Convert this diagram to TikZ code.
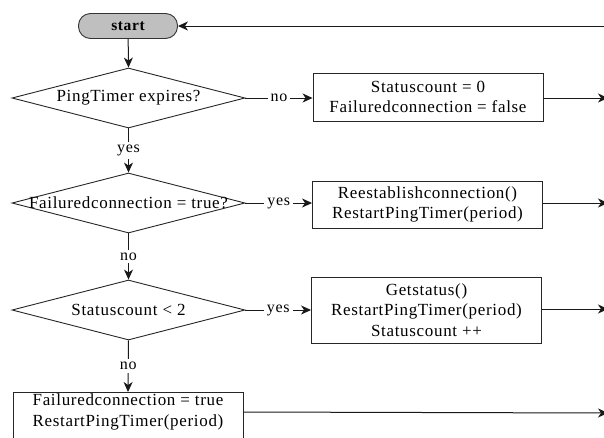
\documentclass[tikz,border=0pt]{standalone}
\usepackage{fontspec}
\setmainfont{Liberation Serif}[LetterSpace=4.0]
\usetikzlibrary{arrows.meta,shapes.geometric}

\begin{document}
\begin{tikzpicture}[x=1pt,y=-1pt,
  font=\fontsize{17}{20.5}\selectfont,
  flow/.style={draw=black!90, line width=1pt,
    -{Stealth[length=10pt,width=9pt,inset=3pt]}},
  decision/.style={diamond, draw=black!85, line width=0.9pt,
    minimum width=233pt, minimum height=60pt, inner sep=0pt},
  action/.style={rectangle, draw=black!85, line width=0.9pt,
    minimum width=230pt, align=center, inner sep=0pt},
  terminal/.style={rectangle, rounded corners=12pt, draw=black!80,
    line width=0.9pt, fill=black!25, minimum width=99pt, minimum height=25pt,
    inner sep=0pt, font=\bfseries\fontsize{15.5}{18}\selectfont},
  lbl/.style={fill=white, inner sep=3pt, font=\fontsize{16}{18}\selectfont}]

  \useasboundingbox (0,0) rectangle (604,437);
  \clip (0,0) rectangle (604,437);

  % start
  \node[terminal] (start) at (128,26) {start};

  % decisions (shape and its text kept apart so the text may overhang)
  \node[decision] (d1) at (128.5,98) {};
  \node (t1) at (128.5,98) {PingTimer expires?};
  \node[decision] (d2) at (128.5,203) {};
  \node (t2) at (128.5,203) {Failuredconnection = true?};
  \node[decision] (d3) at (128.5,310) {};
  \node (t3) at (128.5,310) {Statuscount < 2};

  % actions
  \node[action, minimum height=48pt] (b1) at (428,97)
    {Statuscount = 0\\Failuredconnection = false};
  \node[action, minimum height=47pt] (b2) at (427.5,204.5)
    {Reestablishconnection()\\RestartPingTimer(period)};
  \node[action, minimum height=66pt] (b3) at (426.5,310)
    {Getstatus()\\RestartPingTimer(period)\\Statuscount ++};
  \node[action, minimum height=60pt, anchor=north] (b4) at (128,392) {};
  \node[align=center] (t4) at (128,412)
    {Failuredconnection = true\\RestartPingTimer(period)};

  % off-page ends of the loop
  \coordinate (r0) at (614,26);
  \coordinate (e1) at (608,98);
  \coordinate (e2) at (608,203);
  \coordinate (e3) at (608,309);
  \coordinate (e4) at (608,413);

  % main column
  \draw[flow] (start) -- (d1.north);
  \draw[flow] (d1.south) -- node[lbl] {yes} (d2.north);
  \draw[flow] (d2.south) -- node[lbl] {no} (d3.north);
  \draw[flow] (d3.south) -- node[lbl] {no} (b4.north);

  % branches to the right
  \draw[flow] (d1.east) -- node[lbl] {no} (b1.west |- d1.east);
  \draw[flow] (d2.east) -- node[lbl] {yes} (b2.west |- d2.east);
  \draw[flow] (d3.east) -- node[lbl] {yes} (b3.west |- d3.east);

  % back to the loop
  \draw[flow] (b1.east |- e1) -- (e1);
  \draw[flow] (b2.east |- e2) -- (e2);
  \draw[flow] (b3.east |- e3) -- (e3);
  \draw[flow] (t4 -| b4.east) -- (e4);
  \draw[flow] (r0) -- (start.east);
\end{tikzpicture}
\end{document}
